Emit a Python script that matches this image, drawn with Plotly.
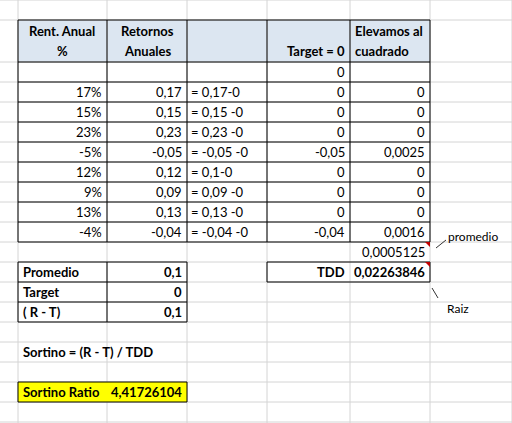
import plotly.graph_objects as go

# spreadsheet contents
rent_anual = ["17%", "15%", "23%", "-5%", "12%", "9%", "13%", "-4%"]
retornos = ["0,17", "0,15", "0,23", "-0,05", "0,12", "0,09", "0,13", "-0,04"]
formulas = ["= 0,17-0", "= 0,15 -0", "= 0,23 -0", "= -0,05 -0", "= 0,1-0",
            "= 0,09 -0", "= 0,13 -0", "= -0,04 -0"]
target = ["0", "0", "0", "-0,05", "0", "0", "0", "-0,04"]
cuadrado = ["0", "0", "0", "0,0025", "0", "0", "0", "0,0016"]
resumen_labels = ["Promedio", "Target", "( R - T)"]
resumen_values = ["0,1", "0", "0,1"]
promedio_sq = "0,0005125"
tdd = "0,02263846"
sortino = "4,41726104"

cols = [18, 107, 187, 267, 350, 430]
row_h = 20
FONT = "Lato"

fig = go.Figure()
shapes = []
ann = []


def line(x0, y0, x1, y1, color="black", width=1):
    shapes.append(dict(type="line", x0=x0, y0=y0, x1=x1, y1=y1,
                       line=dict(color=color, width=width), layer="above"))


def rect(x0, y0, x1, y1, fill=None, border="black"):
    shapes.append(dict(type="rect", x0=x0, y0=y0, x1=x1, y1=y1,
                       fillcolor=fill or "rgba(0,0,0,0)",
                       line=dict(color=border or "rgba(0,0,0,0)", width=1 if border else 0),
                       layer="above" if border else "below"))


def text(x, y, s, anchor="right", bold=False, size=13, color="black"):
    ann.append(dict(x=x, y=y, text=f"<b>{s}</b>" if bold else s, showarrow=False,
                    xanchor=anchor, yanchor="middle",
                    font=dict(family=FONT, size=size, color=color)))


# background grid
for x in cols + [512]:
    line(x, 0, x, 423, "#d4d4d4")
for y in [0, 20] + list(range(62, 423, row_h)):
    line(0, y, 512, y, "#d4d4d4")

# header
rect(18, 20, 430, 62, fill="#dce6f1", border=None)
for x, lines_ in [(62, ["Rent. Anual", "%"]), (147, ["Retornos", "Anuales"])]:
    text(x, 31, lines_[0], "center", bold=True)
    text(x, 51, lines_[1], "center", bold=True)
text(347, 51, "Target = 0", "right", bold=True)
text(353, 31, "Elevamos al", "left", bold=True)
text(353, 51, "cuadrado", "left", bold=True)

# main table rows
text(347, 72, "0")
for i in range(len(rent_anual)):
    yc = 92 + i * row_h
    text(104, yc, rent_anual[i])
    text(184, yc, retornos[i])
    text(189, yc, formulas[i], "left")
    text(347, yc, target[i])
    text(427, yc, cuadrado[i])

# table borders
for x in cols:
    line(x, 20, x, 242)
line(18, 20, 430, 20)
for y in range(62, 243, row_h):
    line(18, y, 430, y)

text(427, 252, promedio_sq)

# resumen box
for i in range(3):
    yc = 272 + i * row_h
    text(21, yc, resumen_labels[i], "left", bold=True)
    text(184, yc, resumen_values[i], bold=True)
rect(18, 262, 187, 322)
line(107, 262, 107, 322)
line(18, 282, 187, 282)
line(18, 302, 187, 302)

# TDD box
rect(267, 262, 430, 282)
text(347, 272, "TDD", bold=True)
text(427, 272, tdd, bold=True)

text(21, 352, "Sortino = (R - T) / TDD", "left", bold=True)

rect(18, 382, 187, 402, fill="#ffff00")
text(21, 392, "Sortino Ratio", "left", bold=True)
text(184, 392, sortino, bold=True)

# comment markers
for y in [242, 262]:
    shapes.append(dict(type="path", path=f"M 425,{y} L 430,{y} L 430,{y + 5} Z",
                       fillcolor="#c00000", line=dict(width=0), layer="above"))
line(436, 248, 446, 240, "black", 0.8)
text(446, 236, "promedio", "left", size=12)
line(432, 288, 438, 298, "black", 0.8)
text(445, 308, "Raiz", "left", size=12)

fig.update_layout(width=512, height=423, margin=dict(l=0, r=0, t=0, b=0),
                  plot_bgcolor="white", paper_bgcolor="white",
                  shapes=shapes, annotations=ann, showlegend=False)
fig.update_xaxes(range=[0, 512], visible=False, fixedrange=True)
fig.update_yaxes(range=[423, 0], visible=False, fixedrange=True)
fig.write_html("out.html", config=dict(displayModeBar=False),
               post_script="document.body.style.margin='0';")
